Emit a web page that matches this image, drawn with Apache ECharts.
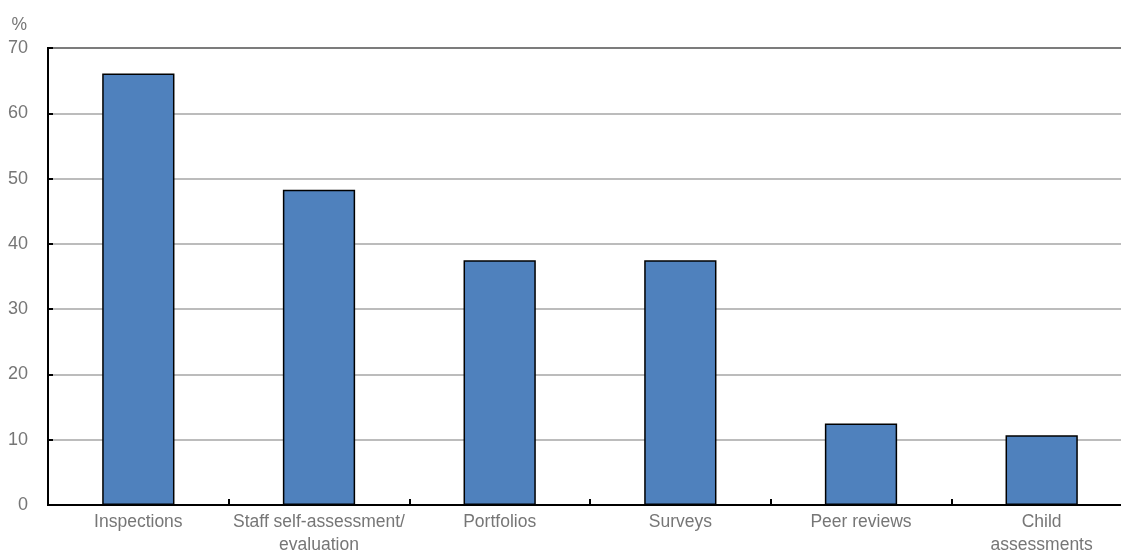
<!DOCTYPE html>
<html><head><meta charset="utf-8">
<script src="https://cdn.jsdelivr.net/npm/echarts@6/dist/echarts.min.js"></script>
<style>html,body{margin:0;padding:0;background:#fff}#c{width:1121px;height:553px}</style>
</head><body><div id="c"></div>
<script>
const categories = ['Inspections', 'Staff self-assessment/\nevaluation', 'Portfolios', 'Surveys', 'Peer reviews', 'Child\nassessments'];
const values = [66.1, 48.3, 37.5, 37.5, 12.5, 10.7];
const yTicks = [0, 10, 20, 30, 40, 50, 60, 70];

const FONT = "'Liberation Sans', Arial, sans-serif";
const chart = echarts.init(document.getElementById('c'));
chart.setOption({
  animation: false,
  grid: { left: 48, right: -11, top: 48, bottom: 48, outerBoundsMode: 'none', containLabel: false,
          show: true, borderColor: '#000', borderWidth: 2, backgroundColor: 'transparent' },
  xAxis: {
    type: 'category', data: categories,
    axisLine: { lineStyle: { color: '#000', width: 2 } },
    axisTick: { show: true, inside: true, length: 6, lineStyle: { color: '#000', width: 2 } },
    axisLabel: { color: '#767676', fontFamily: FONT, fontSize: 17.5, margin: 6, lineHeight: 23, interval: 0 }
  },
  yAxis: {
    type: 'value', min: yTicks[0], max: yTicks[yTicks.length - 1], interval: 10,
    name: '%', nameLocation: 'end', nameGap: 14,
    nameTextStyle: { color: '#767676', fontFamily: FONT, fontSize: 17.5, align: 'right', padding: [0, 21, 0, 0] },
    axisLine: { show: true, lineStyle: { color: '#000', width: 2 } },
    axisTick: { show: true, inside: true, length: 5, lineStyle: { color: '#000', width: 2 } },
    axisLabel: { color: '#767676', fontFamily: FONT, fontSize: 18, margin: 20 },
    splitLine: { show: true, lineStyle: { color: '#a6a6a6', width: 1.5 } }
  },
  series: [{
    type: 'bar', data: values, barWidth: '40%',
    itemStyle: { color: '#4f81bd', borderColor: '#000', borderWidth: 1.5 }
  }]
});
</script></body></html>
